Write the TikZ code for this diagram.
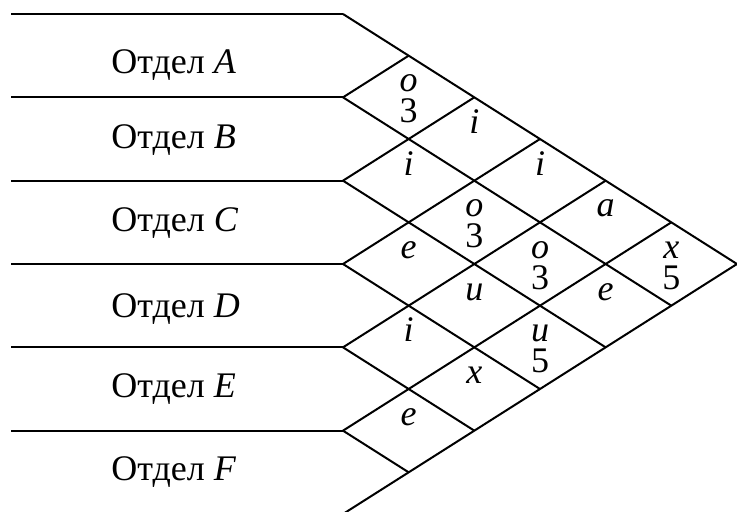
\documentclass[tikz,border=0pt]{standalone}
\usepackage{fontspec}
\setmainfont{Liberation Serif}
\usepackage{tikz}
\usetikzlibrary{calc}

\begin{document}
\begin{tikzpicture}[
  x=0.5pt,y=-0.5pt,
  rule/.style={line width=1pt,draw=black},
  dept/.style={anchor=base west,inner sep=0pt,font=\fontsize{18}{20}\selectfont},
  cellmark/.style={anchor=base,inner sep=0pt,align=center,font=\fontsize{18}{15.5}\selectfont}
]
  \useasboundingbox (0,0) rectangle (737,511);
  % row borders
  \foreach \k in {0,...,6}{
    \coordinate (L\k) at (343,{14+83.33*\k});
    \coordinate (W\k) at (11,{14+83.33*\k});
  }
  \foreach \k in {0,...,5}
    \draw[rule] (W\k) -- (L\k);
  % the roof
  \foreach \k in {0,...,6}{
    \pgfmathsetmacro\dn{6-\k}
    \ifnum\k<6 \draw[rule] (L\k) -- ++(\dn*65.67,\dn*41.67); \fi
    \ifnum\k>0 \draw[rule] (L\k) -- ++(\k*65.67,-\k*41.67); \fi
  }
  \node[dept] (dA) at (111,73) {Отдел \textit{A}};
  \node[dept] (dB) at (111,148) {Отдел \textit{B}};
  \node[dept] (dC) at (111,231) {Отдел \textit{C}};
  \node[dept] (dD) at (111,317) {Отдел \textit{D}};
  \node[dept] (dE) at (111,397) {Отдел \textit{E}};
  \node[dept] (dF) at (111,480) {Отдел \textit{F}};
  % relations (last field: baseline of the last line below the cell centre)
  \foreach \i/\j/\t/\dy in {1/2/{\textit{o}\\3}/25,1/3/\textit{i}/-5.5,2/3/\textit{i}/-5.5,
      1/4/\textit{i}/-5.5,2/4/{\textit{o}\\3}/25,1/5/\textit{a}/-5.5,3/4/\textit{e}/-5.5,
      2/5/{\textit{o}\\3}/25,1/6/{\textit{x}\\5}/25,3/5/\textit{u}/-5.5,2/6/\textit{e}/-5.5,
      4/5/\textit{i}/-5.5,3/6/{\textit{u}\\5}/25,4/6/\textit{x}/-5.5,5/6/\textit{e}/-5.5}
    \node[cellmark] (c\i\j) at ({343+(\j-\i)*65.67},{14+(\i+\j-1)*41.67+\dy}) {\t};
\end{tikzpicture}
\end{document}
